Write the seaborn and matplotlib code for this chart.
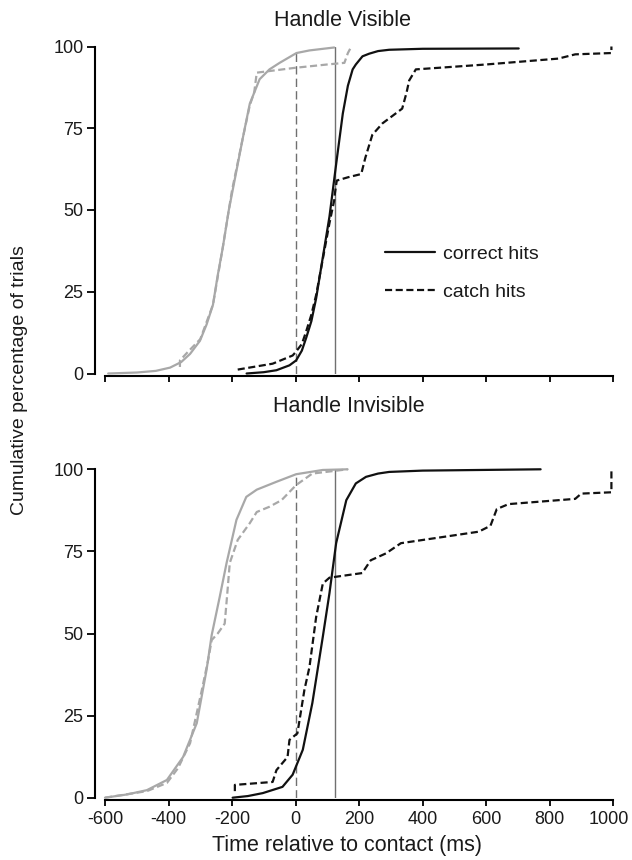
import matplotlib
matplotlib.use("Agg")
import matplotlib.pyplot as plt
import matplotlib.transforms as mtransforms
import seaborn as sns
import numpy as np
import pandas as pd

# ---------------- data ----------------
# Handle Visible
vis_gray_solid_x = [-590, -500, -440, -395, -360, -332, -301, -280, -260, -245, -229, -210, -198, -180, -166, -144, -113, -82, -50, 3, 44, 122]
vis_gray_solid_y = [0, 0.3, 0.8, 1.8, 3.5, 6, 10, 15, 21, 30, 38.5, 50, 56, 65, 72, 82.5, 90, 93, 95, 98, 98.8, 99.7]
vis_gray_dash_x = [-364, -364, -340, -300, -260, -230, -200, -166, -144, -130, -122, 0, 100, 154, 165, 176]
vis_gray_dash_y = [2, 4, 6.5, 10.5, 21, 38, 56, 72, 82, 86, 92, 93.5, 94.5, 95, 98, 100]
vis_black_solid_x = [-154, -100, -60, -19, 2, 20, 34, 50, 65, 86, 107, 128, 149, 165, 180, 190, 211, 232, 260, 295, 400, 703]
vis_black_solid_y = [0, 0.4, 1, 2.5, 4, 7, 11, 16, 23, 35.5, 48, 64, 79.5, 88, 93, 94.5, 97, 97.8, 98.6, 99, 99.3, 99.4]
vis_black_dash_x = [-182, -72, -9, 0, 20, 34, 50, 65, 86, 107, 122, 124, 130, 165, 207, 220, 242, 274, 336, 350, 358, 379, 600, 828, 881, 995, 995]
vis_black_dash_y = [1.2, 3, 5.5, 6.5, 9, 13, 18, 24, 35, 46, 53, 55, 59, 60, 61, 66, 73, 76.5, 81, 86, 89.6, 93, 94.5, 96.3, 97.6, 98, 100]

# Handle Invisible
inv_gray_solid_x = [-600, -530, -468, -405, -354, -311, -280, -264, -239, -217, -186, -155, -122, -60, 2, 86, 164]
inv_gray_solid_y = [0, 1, 2.3, 5.4, 12.4, 22.7, 39, 49.5, 61, 71.5, 84.6, 91.6, 93.8, 96.2, 98.5, 99.8, 100]
inv_gray_dash_x = [-600, -468, -405, -370, -332, -295, -275, -264, -245, -223, -215, -207, -182, -144, -122, -82, -44, 2, 53, 164]
inv_gray_dash_y = [0, 2, 4.5, 9, 16.6, 32.8, 42, 48, 50, 53, 62, 71.5, 78.5, 83.6, 87, 88.6, 90.6, 95.2, 98.7, 100]
inv_black_solid_x = [-198, -150, -103, -41, -9, 23, 53, 86, 107, 128, 160, 190, 222, 260, 295, 400, 772]
inv_black_solid_y = [0, 0.5, 1.4, 3.3, 7, 14.6, 28.8, 49, 62.3, 77.5, 90.6, 95.7, 97.7, 98.7, 99.2, 99.6, 100]
inv_black_dash_x = [-191, -191, -72, -60, -25, -19, 6, 28, 44, 65, 86, 107, 210, 237, 285, 332, 577, 614, 634, 671, 881, 900, 995, 995]
inv_black_dash_y = [2, 3.9, 4.8, 8.4, 12.4, 17.6, 19.6, 32.8, 39.8, 55, 65.2, 67, 68.4, 72.3, 74.4, 77.5, 81, 82.8, 87.9, 89.4, 91, 92.6, 93, 100]

contact_time = 0        # dashed reference line
mean_offset_time = 125  # thin solid reference line

panel_titles = ["Handle Visible", "Handle Invisible"]
x_ticks = [-600, -400, -200, 0, 200, 400, 600, 800, 1000]
y_ticks = [0, 25, 50, 75, 100]
legend_labels = ["correct hits", "catch hits"]

# ---------------- style ----------------
sns.set_theme(style="ticks")
plt.rcParams["font.family"] = ["Liberation Sans", "DejaVu Sans"]
plt.rcParams["text.color"] = "#1a1a1a"
plt.rcParams["axes.unicode_minus"] = False

GRAY = "#a8a8a8"
BLACK = "#111111"
DASH = (0, (3.2, 1.6))

fig = plt.figure(figsize=(6.32, 8.6), dpi=100)
ax_top = fig.add_axes([105/632, 1-373.5/860, 508/632, 327/860])
ax_bot = fig.add_axes([105/632, 1-797.7/860, 508/632, 328.4/860])

panels = [
    (ax_top, [(vis_gray_solid_x, vis_gray_solid_y, GRAY, "-", None),
              (vis_gray_dash_x, vis_gray_dash_y, GRAY, DASH, None),
              (vis_black_solid_x, vis_black_solid_y, BLACK, "-", legend_labels[0]),
              (vis_black_dash_x, vis_black_dash_y, BLACK, DASH, legend_labels[1])]),
    (ax_bot, [(inv_gray_solid_x, inv_gray_solid_y, GRAY, "-", None),
              (inv_gray_dash_x, inv_gray_dash_y, GRAY, DASH, None),
              (inv_black_solid_x, inv_black_solid_y, BLACK, "-", None),
              (inv_black_dash_x, inv_black_dash_y, BLACK, DASH, None)]),
]

for ax, curves in panels:
    ax.axvline(contact_time, ymin=0, ymax=0.98, color="#707070", lw=1.0, ls=(0, (6, 3)), zorder=1)
    ax.axvline(mean_offset_time, ymin=0, ymax=1.0, color="#707070", lw=1.0, zorder=1)
    for xs, ys, col, ls, lab in curves:
        df = pd.DataFrame({"t": xs, "p": ys})
        sns.lineplot(data=df, x="t", y="p", ax=ax, color=col, linestyle=ls,
                     lw=1.6, estimator=None, sort=False, label=lab, legend=False,
                     clip_on=False, zorder=3)
    ax.set_xlim(-600, 1000)
    ax.set_ylim(0, 100)
    ax.set_xticks(x_ticks)
    ax.set_yticks(y_ticks)
    ax.set_xlabel("")
    ax.set_ylabel("")
    sns.despine(ax=ax, offset={"left": 7, "bottom": 1.5})
    for side in ("left", "bottom"):
        ax.spines[side].set_linewidth(1.5)
        ax.spines[side].set_color("black")
    ax.tick_params(axis="y", length=5.5, width=1.3, pad=3, labelsize=13, colors="black")
    ax.tick_params(axis="x", length=4.5, width=1.3, pad=3.5, labelsize=13, colors="black")
    for lab in ax.get_xticklabels() + ax.get_yticklabels():
        lab.set_color("#1a1a1a")

ax_top.tick_params(axis="x", labelbottom=False)

# the last x tick label sits slightly left of its tick in the reference
last = ax_bot.get_xticklabels()[-1]
last.set_transform(last.get_transform() + mtransforms.ScaledTranslation(-4/100, 0, fig.dpi_scale_trans))

handles, labels = ax_top.get_legend_handles_labels()
ax_top.legend(handles, labels, loc="upper left", bbox_to_anchor=(0.551, 0.393),
              frameon=False, fontsize=14, handlelength=2.6, handletextpad=0.4,
              labelspacing=1.05, borderpad=0, borderaxespad=0)

fig.text(342/632, 1-21/860, panel_titles[0], ha="center", va="center", fontsize=15.5)
fig.text(349/632, 1-407/860, panel_titles[1], ha="center", va="center", fontsize=15.5)
fig.text(20/632, 1-380/860, "Cumulative percentage of trials", ha="center", va="center",
         rotation=90, fontsize=14)
fig.text(347/632, 1-846/860, "Time relative to contact (ms)", ha="center", va="center",
         fontsize=15.5)

fig.savefig("out.png", dpi=100)
